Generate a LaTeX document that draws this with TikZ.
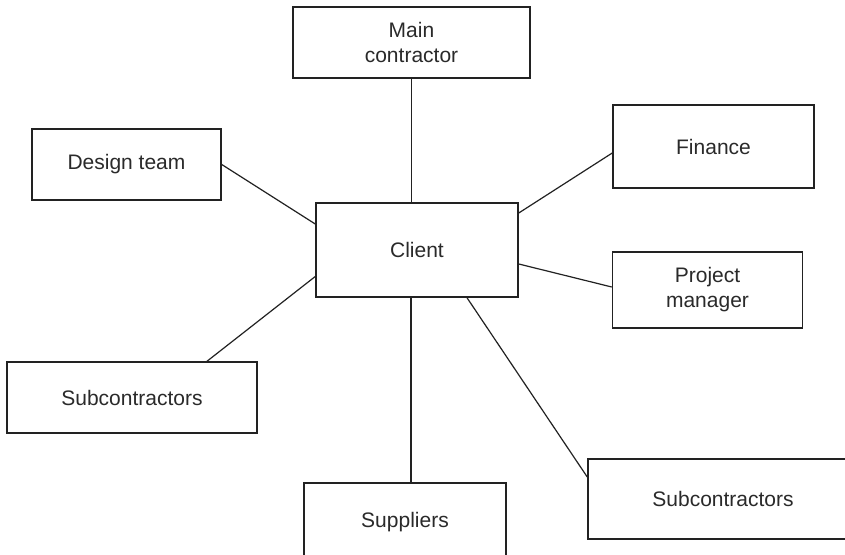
\documentclass[tikz,border=0pt]{standalone}
\usepackage{fontspec}
\setmainfont{Liberation Sans}
\usetikzlibrary{calc}
\definecolor{inkline}{HTML}{222222}
\definecolor{inktext}{HTML}{2A2A2A}
\begin{document}
\begin{tikzpicture}[x=0.5pt,y=-0.5pt,
  party/.style={draw=inkline,line width=0.75pt,rectangle,inner sep=0pt,
    align=center,text=inktext,font=\fontsize{10.5}{12.5}\selectfont},
  link/.style={draw=inkline,line width=0.6pt}]
  \useasboundingbox (0,0) rectangle (845,555);
  \clip (0,0) rectangle (845,555);
  \fill[white] (0,0) rectangle (845,555);

  % organisations around the client
  \node[party,minimum width=118.5pt,minimum height=35.5pt] (main) at (411.5,42.5) {Main\\contractor};
  \node[party,minimum width=94.5pt,minimum height=35.5pt] (design) at (126.5,164.5) {Design team};
  \node[party,minimum width=100.5pt,minimum height=41.5pt] (finance) at (713.5,146.5) {Finance};
  \node[party,minimum width=101pt,minimum height=47pt] (client) at (417,250) {Client};
  \node[party,minimum width=95pt,minimum height=38pt] (pm) at (707.5,290) {Project\\manager};
  \node[party,minimum width=125pt,minimum height=35.5pt] (subL) at (132,397.5) {Subcontractors};
  \node[party,minimum width=101pt,minimum height=39pt] (suppliers) at (405,522) {Suppliers};
  \node[party,minimum width=135pt,minimum height=40pt] (subR) at (723,499) {Subcontractors};

  % relationships with the client
  \draw[link] (main.south) -- (main.south |- client.north);
  \draw[link] (design.east) -- ($(client.west)+(0,-26)$);
  \draw[link] ($(finance.west)+(0,6.5)$) -- ($(client.east)+(0,-37)$);
  \draw[link] ($(pm.west)+(0,-3)$) -- ($(client.east)+(0,14)$);
  \draw[link] ($(subL.north)+(75,0)$) -- ($(client.west)+(0,26.5)$);
  \draw[link] ($(client.south)+(-6,0)$) -- ($(suppliers.north)+(6,0)$);
  \draw[link] ($(client.south)+(50,0)$) -- ($(subR.west)+(0,-22)$);
\end{tikzpicture}
\end{document}
